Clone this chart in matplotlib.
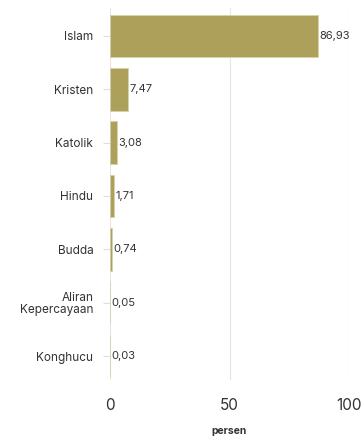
import matplotlib
matplotlib.use("Agg")
import matplotlib.pyplot as plt

# data agama (persen)
categories = ["Islam", "Kristen", "Katolik", "Hindu", "Budda", "Aliran\nKepercayaan", "Konghucu"]
values = [86.93, 7.47, 3.08, 1.71, 0.74, 0.05, 0.03]
value_labels = ["86,93", "7,47", "3,08", "1,71", "0,74", "0,05", "0,03"]

plt.rcParams['font.family'] = ['Inter', 'DejaVu Sans']

fig = plt.figure(figsize=(3.61, 4.38), dpi=100)
ax = fig.add_axes([110 / 361, 1 - 380 / 438, 239 / 361, 372 / 438])

ypos = list(range(len(categories)))
ax.barh(ypos, values, height=0.8, color='#ADA05A', edgecolor='#D8D2A8', linewidth=0.6, zorder=3)

for y, v, lab in zip(ypos, values, value_labels):
    ax.text(v + 0.6, y, lab, va='center', ha='left', fontsize=8, color='#333333', zorder=4)

ax.set_xlim(0, 100)
ax.set_ylim(6.45, -0.525)
ax.set_xticks([0, 50, 100])
ax.set_xticklabels(["0", "50", "100"], fontsize=11, color='#333333')
ax.set_yticks(ypos)
ax.set_yticklabels(categories, fontsize=8.5, color='#333333', linespacing=1.0)

ax.grid(axis='x', color='#E6E6E6', linewidth=0.8, zorder=0)
for s in ax.spines.values():
    s.set_visible(False)
ax.tick_params(axis='y', length=5, color='#DDDDDD', pad=7)
ax.tick_params(axis='x', length=0, pad=13)

ax.set_xlabel("persen", fontsize=7.5, fontweight='bold', color='#333333', labelpad=9)

fig.savefig("out.png", dpi=100)
